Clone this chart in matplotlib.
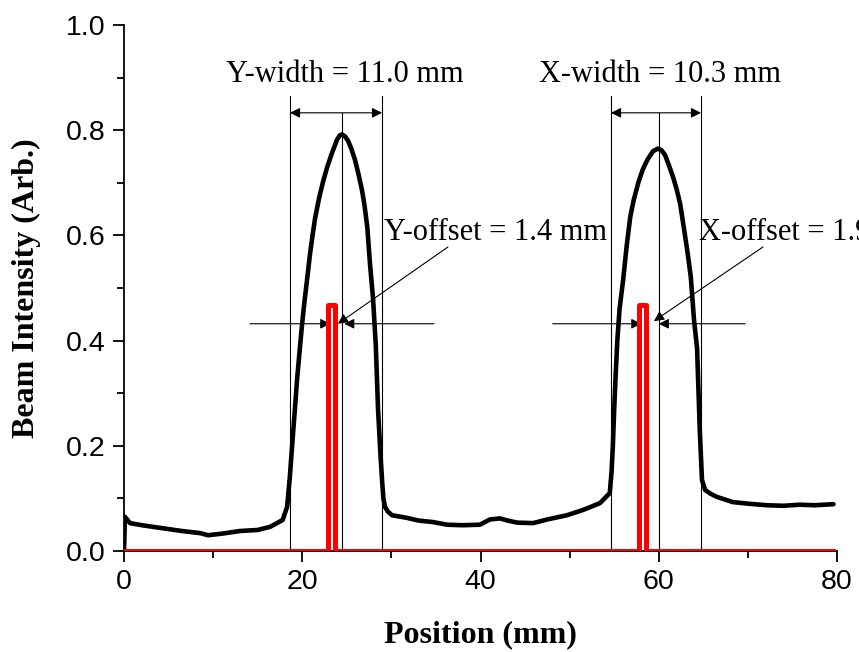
import matplotlib
matplotlib.use('Agg')
import matplotlib.pyplot as plt

# Beam profile (black) and pinhole scan (red)
beam_x = [0, 0.1, 0.67, 2.0, 4.04, 6.5, 8.53, 9.42, 11.0, 13.0, 15.0, 16.4, 17.8, 18.3,
          18.6, 18.85, 19.15, 19.41, 19.7, 19.97, 20.25, 20.53, 20.87, 21.15, 21.43,
          21.9, 22.33, 22.8, 23.34, 23.9, 24.2, 24.46, 24.8, 25.13, 25.5, 25.92, 26.3,
          26.7, 27.0, 27.3, 27.6, 27.94, 28.25, 28.5, 28.75, 28.95, 29.1, 29.28, 29.6,
          30.07, 31.75, 33.0, 34.67, 36.24, 38.0, 39.94, 41.06, 42.2, 43.0, 44.1, 45.9,
          47.5, 49.7, 51.5, 53.4, 54.5, 54.7, 54.85, 55.0, 55.15, 55.35, 55.6, 56.0,
          56.4, 56.8, 57.2, 57.7, 58.2, 58.7, 59.35, 59.9, 60.3, 60.7, 61.1, 61.6, 62.0,
          62.4, 62.9, 63.25, 63.6, 63.95, 64.3, 64.6, 64.85, 65.2, 65.8, 66.5, 68.3, 70.0,
          72.1, 74.0, 75.8, 77.5, 79.6]
beam_y = [0, 0.065, 0.053, 0.049, 0.044, 0.038, 0.034, 0.030, 0.033, 0.038, 0.040, 0.046,
          0.059, 0.084, 0.14, 0.198, 0.265, 0.325, 0.38, 0.43, 0.475, 0.515, 0.565,
          0.600, 0.632, 0.672, 0.702, 0.730, 0.757, 0.782, 0.790, 0.792, 0.788, 0.780,
          0.765, 0.743, 0.717, 0.686, 0.655, 0.615, 0.545, 0.48, 0.39, 0.27, 0.19,
          0.135, 0.10, 0.084, 0.075, 0.068, 0.063, 0.058, 0.055, 0.050, 0.049, 0.050,
          0.060, 0.062, 0.058, 0.054, 0.053, 0.060, 0.068, 0.078, 0.091, 0.110, 0.15,
          0.20, 0.27, 0.33, 0.40, 0.46, 0.515, 0.58, 0.635, 0.668, 0.700, 0.725, 0.743,
          0.760, 0.765, 0.762, 0.753, 0.735, 0.711, 0.688, 0.660, 0.605, 0.565, 0.52,
          0.44, 0.385, 0.23, 0.135, 0.116, 0.109, 0.103, 0.093, 0.090, 0.087, 0.086,
          0.088, 0.087, 0.089]

pin_x = [0, 22.9, 22.9, 23.65, 23.65, 57.8, 57.8, 58.55, 58.55, 79.6]
pin_y = [0, 0, 0.468, 0.468, 0, 0, 0.468, 0.468, 0, 0]

# width markers: left edge, centre, right edge
y_edges = [18.62, 24.46, 28.95]
x_edges = [54.64, 60.02, 64.74]
pin_centres = [23.25, 58.15]

fig = plt.figure(figsize=(8.59, 6.52), dpi=100)
ax = fig.add_axes([0.1444, 0.1549, 0.8300, 0.8068])

ax.plot(beam_x, beam_y, color='black', lw=3.3, solid_joinstyle='round',
        solid_capstyle='round', zorder=3)
ax.plot(pin_x, pin_y, color='red', lw=3.6, solid_joinstyle='round', zorder=4)

thin = dict(color='black', lw=0.8)
for edges in (y_edges, x_edges):
    ax.plot([edges[0], edges[0]], [0, 0.865], zorder=2, **thin)
    ax.plot([edges[2], edges[2]], [0, 0.865], zorder=2, **thin)
    ax.plot([edges[1], edges[1]], [0, 0.832], zorder=2, **thin)
    ax.annotate('', xy=(edges[2], 0.833), xytext=(edges[0], 0.833),
                arrowprops=dict(arrowstyle='<|-|>', color='black', lw=0.8,
                                mutation_scale=15, shrinkA=0, shrinkB=0))

tf = dict(family='Liberation Serif', fontsize=22)
ax.text(24.8, 0.905, 'Y-width = 11.0 mm', ha='center', va='center', **tf)
ax.text(60.1, 0.905, 'X-width = 10.3 mm', ha='center', va='center', **tf)
ax.text(29.2, 0.606, 'Y-offset = 1.4 mm', ha='left', va='center', clip_on=False, **tf)
ax.text(64.55, 0.606, 'X-offset = 1.9 mm', ha='left', va='center', clip_on=False, **tf)

head = dict(arrowstyle='-|>', color='black', lw=0.8, mutation_scale=15, shrinkA=0, shrinkB=0)
# offset arrows
for left, right, pc, bc, yy in [(14.14, 34.78, pin_centres[0], 24.7, 0.432),
                                (48.1, 69.7, pin_centres[1], 60.0, 0.432)]:
    ax.annotate('', xy=(pc - 0.1, yy), xytext=(left, yy), arrowprops=head)
    ax.annotate('', xy=(bc, yy), xytext=(right, yy), arrowprops=head)
ax.annotate('', xy=(24.0, 0.432), xytext=(36.35, 0.578), arrowprops=head)
ax.annotate('', xy=(59.45, 0.437), xytext=(71.7, 0.578), arrowprops=head)

ax.set_xlim(0, 80)
ax.set_ylim(0, 1.0)
ax.set_xticks([0, 20, 40, 60, 80])
ax.set_xticks([10, 30, 50, 70], minor=True)
ax.set_yticks([0, 0.2, 0.4, 0.6, 0.8, 1.0])
ax.set_yticklabels(['0.0', '0.2', '0.4', '0.6', '0.8', '1.0'])
ax.set_yticks([0.1, 0.3, 0.5, 0.7, 0.9], minor=True)

for s in ('top', 'right'):
    ax.spines[s].set_visible(False)
for s in ('left', 'bottom'):
    ax.spines[s].set_linewidth(1.3)

ax.tick_params(which='major', direction='out', length=8, width=1.3, labelsize=20.5, pad=5)
ax.tick_params(which='minor', direction='out', length=5, width=1.3)
for lab in ax.get_xticklabels() + ax.get_yticklabels():
    lab.set_family('Liberation Sans')

ax.set_xlabel('Position (mm)', family='Liberation Serif', fontweight='bold', fontsize=23, labelpad=18)
ax.set_ylabel('Beam Intensity (Arb.)', family='Liberation Serif', fontweight='bold', fontsize=23, labelpad=18)

fig.savefig('out.png', dpi=100)
